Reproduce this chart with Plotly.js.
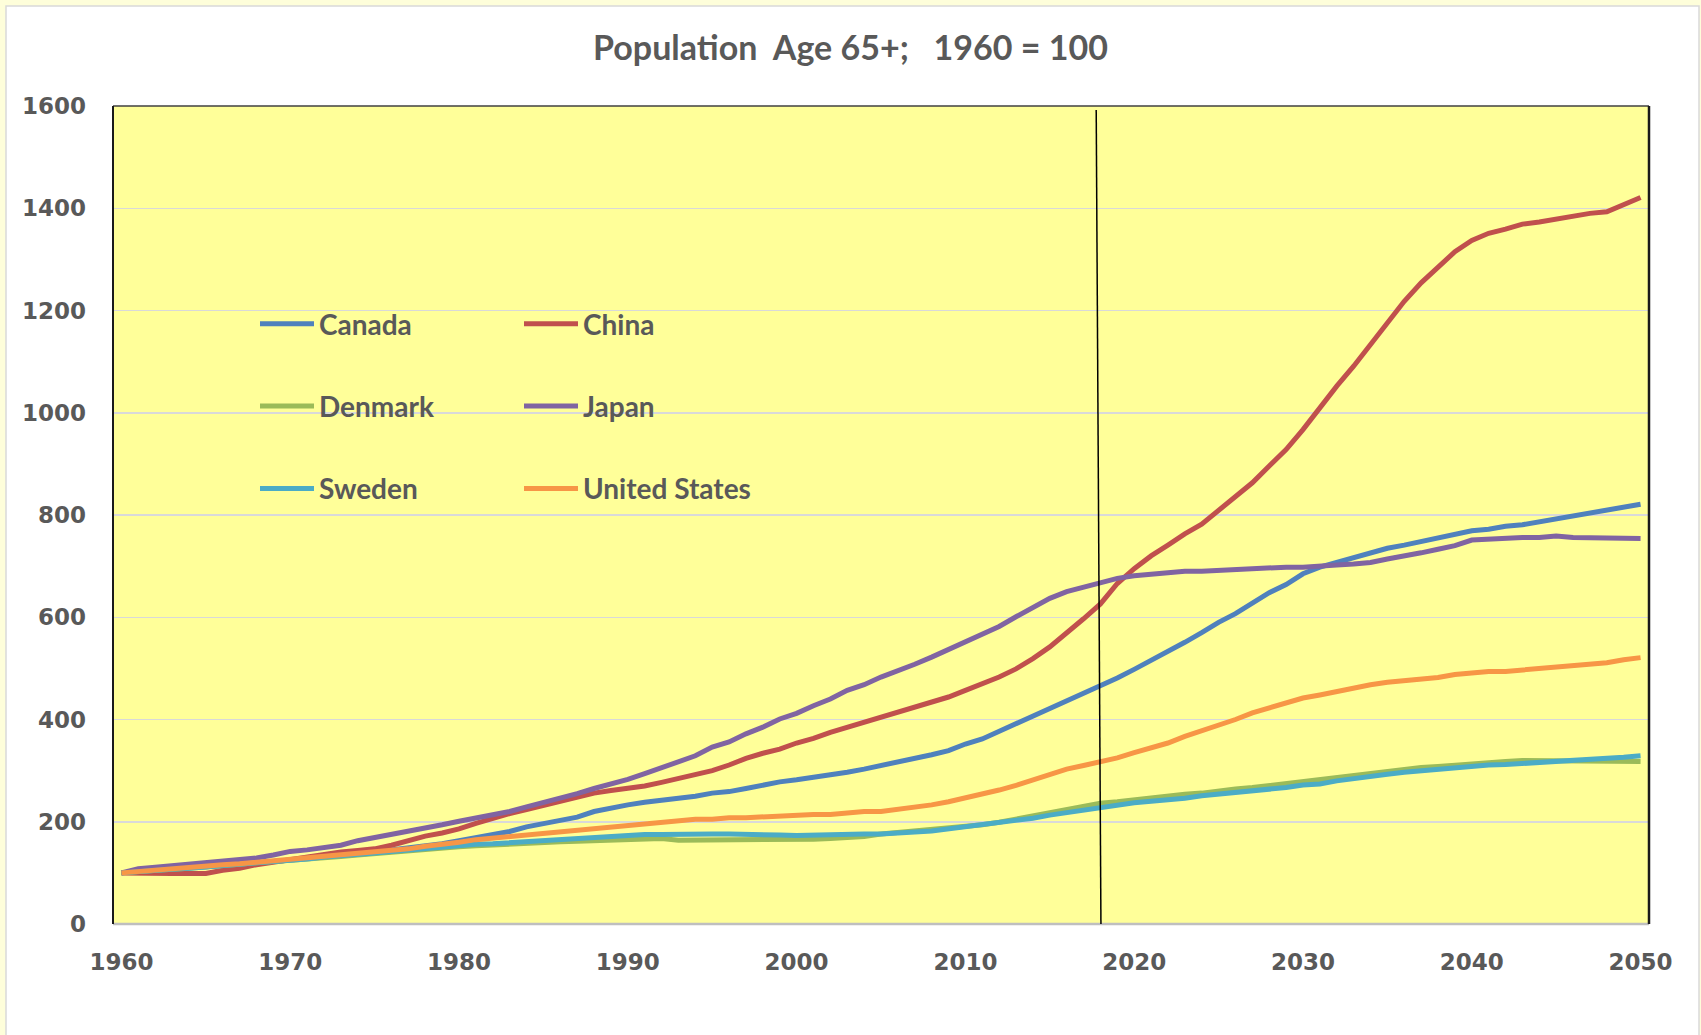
<!DOCTYPE html>
<html>
<head>
<meta charset="utf-8">
<script src="https://cdn.plot.ly/plotly-3.0.1.min.js"></script>
<style>html,body{margin:0;padding:0;background:#fff;}#chart{width:1701px;height:1035px;}</style>
</head>
<body>
<div id="chart"></div>
<script>
// Years 1960..2050
const years = [];
for (let y = 1960; y <= 2050; y++) years.push(y);

const canada = [
 100,103,106,108,110,112,114,116,119,122,
 125,129,133,135,137,141,144,148,152,157,
 163,169,176,181,190,196,201,209,220,227,
 233,238,242,245,250,256,259,265,272,278,
 282,287,290,297,303,310,315,323,331,339,
 352,362,377,391,407,421,436,450,466,481,
 498,515,533,551,570,590,607,628,648,664,
 685,698,707,717,726,735,741,748,754,763,
 769,772,778,781,787,793,798,805,810,816,
 821];
const china = [
 100,99,99,99,99,99,105,109,116,121,
 126,131,137,141,144,147,154,163,172,178,
 186,197,207,216,224,232,242,250,256,261,
 265,270,277,285,293,300,311,324,334,342,
 354,363,375,385,396,406,416,424,434,444,
 457,470,483,499,519,542,568,597,626,666,
 695,720,741,763,782,808,834,863,896,928,
 967,1010,1052,1091,1133,1179,1218,1254,1286,1315,
 1337,1351,1359,1369,1373,1379,1385,1390,1393,1406,
 1421];
const denmark = [
 100,103,105,107,109,111,114,117,120,122,
 125,127,130,132,135,138,141,144,146,149,
 151,153,155,157,158,159,161,162,163,165,
 166,167,167,164,164,164,164,164,164,164,
 164,166,167,169,171,176,179,182,184,187,
 191,194,199,205,212,218,225,231,236,239,
 243,246,250,254,256,261,264,267,271,274,
 277,282,287,290,295,298,303,306,308,311,
 312,315,318,320,320,320,319,318,318,318,
 318];
const japan = [
 100,108,111,114,118,121,124,126,129,135,
 142,145,150,154,163,169,175,180,186,194,
 201,207,214,220,229,237,246,255,265,273,
 283,294,306,316,329,346,356,372,385,401,
 412,427,440,457,468,483,495,508,522,537,
 553,568,582,601,620,637,650,659,668,676,
 681,684,686,690,690,692,693,696,696,698,
 698,701,702,704,707,714,719,726,733,740,
 751,753,756,756,756,759,756,756,756,756,
 754];
const sweden = [
 100,103,105,107,109,111,114,117,120,122,
 125,127,131,133,135,139,142,145,147,150,
 154,156,157,159,161,163,167,168,170,172,
 175,175,175,176,176,176,176,176,176,174,
 173,174,176,176,176,176,177,180,182,186,
 189,194,199,202,207,213,218,222,227,232,
 237,240,242,246,251,254,258,261,263,267,
 272,274,280,285,288,293,297,300,303,306,
 308,311,312,314,315,318,319,320,323,326,
 329];
const unitedStates = [
 100,103,106,108,110,113,116,118,121,123,
 125,129,132,135,137,141,143,147,152,155,
 160,165,168,171,175,178,181,183,186,190,
 193,196,199,202,205,205,208,208,210,210,
 212,214,214,217,220,220,224,229,233,239,
 246,254,262,271,282,293,303,310,317,325,
 335,344,354,367,378,388,400,413,422,432,
 442,448,455,461,468,473,476,480,482,488,
 491,494,494,497,499,503,505,508,511,517,
 521];

const seriesNames = ['Canada','China','Denmark','Japan','Sweden','United States'];
const seriesValues = [canada, china, denmark, japan, sweden, unitedStates];
const seriesColors = ['#4F81BD','#C0504D','#9BBB59','#8064A2','#4BACC6','#F79646'];
const legendOf = ['legend','legend2','legend','legend2','legend','legend2'];
const tickYears = [1960,1970,1980,1990,2000,2010,2020,2030,2040,2050];
const markerYearTop = 2017.75, markerYearBottom = 2018.03;

const textColor = '#595959';
const traces = seriesNames.map((n, i) => ({
  type: 'scatter', mode: 'lines', name: n, x: years, y: seriesValues[i],
  line: {color: seriesColors[i], width: 5},
  legend: legendOf[i], legendgroup: 'g' + i, hoverinfo: 'x+y+name'
}));

const L = 113, R = 52, T = 106, B = 111, W = 1701, H = 1035;
const pw = W - L - R, ph = H - T - B;
const px = X => (X - L) / pw;
const py = Y => (H - B - Y) / ph;

const legendFont = {family: 'Lato, "Open Sans", sans-serif', size: 28, color: textColor, weight: 700};
const legendCommon = {
  orientation: 'v', bgcolor: 'rgba(0,0,0,0)', borderwidth: 0,
  font: legendFont, tracegroupgap: 43, traceorder: 'grouped',
  xanchor: 'left', yanchor: 'top', itemwidth: 54
};

const layout = {
  width: W, height: H,
  margin: {l: L, r: R, t: T, b: B, pad: 0},
  paper_bgcolor: '#FEFEDA',
  plot_bgcolor: '#FFFF99',
  title: {
    text: 'Population\u00a0 Age 65+;\u00a0\u00a0 1960 = 100',
    font: {family: 'Lato, "Open Sans", sans-serif', size: 34, color: textColor, weight: 700},
    x: 0.5, xref: 'container', xanchor: 'center',
    y: 1 - 48 / H, yref: 'container', yanchor: 'middle'
  },
  xaxis: {
    range: [1959.5, 2050.5], tickmode: 'array', tickvals: tickYears,
    ticktext: tickYears.map(String),
    showgrid: false, zeroline: false, showline: false, ticks: '',
    ticklabelstandoff: 22,
    tickfont: {family: '"DejaVu Sans", Verdana, sans-serif', size: 23, color: textColor, weight: 700}
  },
  yaxis: {
    range: [0, 1600], dtick: 200, tick0: 0,
    showgrid: true, gridcolor: '#D9D9D9', gridwidth: 1.5,
    zeroline: false, showline: false, ticks: '',
    ticklabelstandoff: 26,
    tickfont: {family: '"DejaVu Sans", Verdana, sans-serif', size: 23, color: textColor, weight: 700}
  },
  legend: Object.assign({}, legendCommon, {x: px(255), y: py(299)}),
  legend2: Object.assign({}, legendCommon, {x: px(519), y: py(299)}),
  showlegend: true,
  shapes: [
    {type: 'rect', xref: 'paper', yref: 'paper', x0: px(6), x1: px(1699), y0: py(1045), y1: py(6),
     fillcolor: '#FFFFFF', line: {color: '#D9D9D9', width: 1.5}, layer: 'below'},
    {type: 'rect', xref: 'paper', yref: 'paper', x0: 0, x1: 1, y0: 0, y1: 1,
     fillcolor: '#FFFF99', line: {width: 0}, layer: 'below'},
    {type: 'line', xref: 'paper', yref: 'paper', x0: 0, x1: 1, y0: 0, y1: 0,
     line: {color: '#BFBFBF', width: 2.5}, layer: 'above'},
    {type: 'line', xref: 'paper', yref: 'paper', x0: 0, x1: 1, y0: 1, y1: 1,
     line: {color: '#404040', width: 1.5}, layer: 'above'},
    {type: 'line', xref: 'paper', yref: 'paper', x0: 0, x1: 0, y0: 0, y1: 1,
     line: {color: '#1a1a1a', width: 2}, layer: 'above'},
    {type: 'line', xref: 'paper', yref: 'paper', x0: 1, x1: 1, y0: 0, y1: 1,
     line: {color: '#1a1a1a', width: 2.5}, layer: 'above'},
    {type: 'line', xref: 'x', yref: 'y', x0: markerYearTop, x1: markerYearBottom, y0: 1592, y1: 0,
     line: {color: '#000000', width: 1.5}, layer: 'above'}
  ]
};

Plotly.newPlot('chart', traces, layout, {displayModeBar: false, staticPlot: true});
</script>
</body>
</html>
